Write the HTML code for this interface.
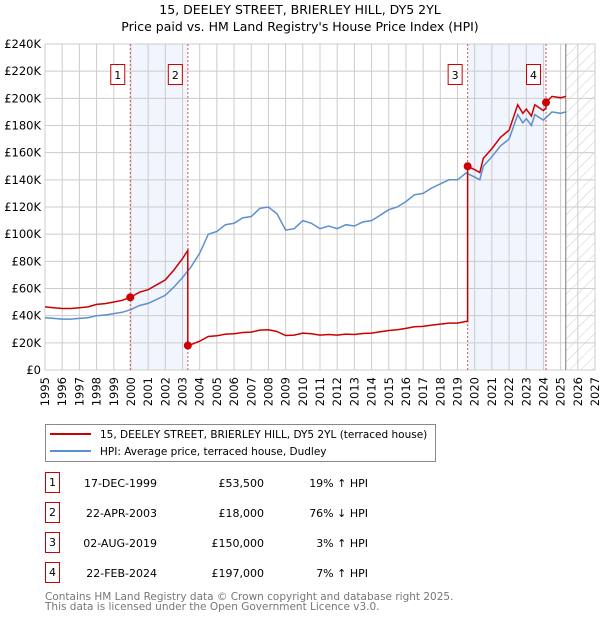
<!DOCTYPE html>
<html><head><meta charset="utf-8"><style>
body{margin:0;background:#fff;}
svg text{font-family:"DejaVu Sans","Liberation Sans",sans-serif;}
</style></head><body>
<svg id="c" width="600" height="620" xmlns="http://www.w3.org/2000/svg">
<defs><pattern id="hatch" width="8" height="8" patternUnits="userSpaceOnUse" patternTransform="rotate(45)"><line x1="0" y1="0" x2="0" y2="8" stroke="#ccc" stroke-width="1"/></pattern></defs>
<text x="300" y="14" text-anchor="middle" font-size="12.5">15, DEELEY STREET, BRIERLEY HILL, DY5 2YL</text>
<text x="300" y="31" text-anchor="middle" font-size="12.5">Price paid vs. HM Land Registry's House Price Index (HPI)</text>
<g id="plot"></g>
<g>
<rect x="45.5" y="424.5" width="390" height="37" fill="#fff" stroke="#888"/>
<line x1="50" y1="434" x2="91" y2="434" stroke="#cc0000" stroke-width="2"/>
<text x="100" y="438" font-size="10.5">15, DEELEY STREET, BRIERLEY HILL, DY5 2YL (terraced house)</text>
<line x1="50" y1="451" x2="91" y2="451" stroke="#5b8fd0" stroke-width="2"/>
<text x="100" y="455" font-size="10.5">HPI: Average price, terraced house, Dudley</text>
</g>
<g id="table"></g>
<text x="45" y="600" font-size="10.5" fill="#777">Contains HM Land Registry data © Crown copyright and database right 2025.</text>
<text x="45" y="610" font-size="10.5" fill="#777">This data is licensed under the Open Government Licence v3.0.</text>
</svg>
<script>
const hpiYears=[1995,1995.5,1996,1996.5,1997,1997.5,1998,1998.5,1999,1999.5,2000,2000.5,2001,2001.5,2002,2002.5,2003,2003.5,2004,2004.5,2005,2005.5,2006,2006.5,2007,2007.5,2008,2008.5,2009,2009.5,2010,2010.5,2011,2011.5,2012,2012.5,2013,2013.5,2014,2014.5,2015,2015.5,2016,2016.5,2017,2017.5,2018,2018.5,2019,2019.5,2020,2020.3,2020.5,2021,2021.5,2022,2022.5,2022.8,2023,2023.3,2023.5,2024,2024.5,2025,2025.3];
const hpiValues=[38.5,38,37.5,37.5,38,38.5,40,40.5,41.5,42.5,44.5,47.5,49,52,55,61,68,76,86,100,102,107,108,112,113,119,120,115,103,104,110,108,104,106,104,107,106,109,110,114,118,120,124,129,130,134,137,140,140,145,142,140,150,157,165,170,188,182,185,180,188,184,190,189,190];
const saleYears=[1999.96,2003.31,2019.59,2024.15];
const salePrices=[53.5,18,150,197];
const saleDates=["17-DEC-1999","22-APR-2003","02-AUG-2019","22-FEB-2024"];
const salePriceLabels=["£53,500","£18,000","£150,000","£197,000"];
const salePct=["19% ↑ HPI","76% ↓ HPI","3% ↑ HPI","7% ↑ HPI"];
const yTicks=[0,20,40,60,80,100,120,140,160,180,200,220,240];
const xTicks=[1995,1996,1997,1998,1999,2000,2001,2002,2003,2004,2005,2006,2007,2008,2009,2010,2011,2012,2013,2014,2015,2016,2017,2018,2019,2020,2021,2022,2023,2024,2025,2026,2027];

const X0=45,X1=595,Y0=370,Y1=44,xMin=1995,xMax=2027,yMax=240,forecastStart=2025.3;
const sx=v=>X0+(v-xMin)/(xMax-xMin)*(X1-X0);
const sy=v=>Y0-v/yMax*(Y0-Y1);
const NS="http://www.w3.org/2000/svg";
const plot=document.getElementById('plot');
function mk(tag,attrs,parent){const e=document.createElementNS(NS,tag);for(const k in attrs)e.setAttribute(k,attrs[k]);(parent||plot).appendChild(e);return e;}
function hpiAt(t){for(let i=0;i<hpiYears.length-1;i++){if(t<=hpiYears[i+1]){const f=(t-hpiYears[i])/(hpiYears[i+1]-hpiYears[i]);return hpiValues[i]+f*(hpiValues[i+1]-hpiValues[i]);}}return hpiValues[hpiValues.length-1];}

for(const [a,b] of [[0,1],[2,3]]){
 const r=mk('rect',{x:sx(saleYears[a]),y:Y1,width:sx(saleYears[b])-sx(saleYears[a]),height:Y0-Y1,fill:'#eef3fc',opacity:0.8});
 
 
}
const h=mk('rect',{x:sx(forecastStart),y:Y1,width:X1-sx(forecastStart),height:Y0-Y1,fill:'url(#hatch)'});


for(const t of yTicks){
 mk('line',{x1:X0,x2:X1,y1:sy(t),y2:sy(t),stroke:'#ccc','stroke-width':1});
 const tx=mk('text',{x:X0-4,y:sy(t)+4,'text-anchor':'end','font-size':11.5});
 tx.textContent=t===0?'£0':'£'+t+'K';
 
 
}
for(const t of xTicks){
 mk('line',{x1:sx(t),x2:sx(t),y1:Y1,y2:Y0,stroke:'#ccc','stroke-width':1});
 const tx=mk('text',{x:0,y:0,'text-anchor':'end','font-size':11.5,transform:'translate('+(sx(t)+4)+',377) rotate(-90)'});
 tx.textContent=t;
 
 
}
mk('rect',{x:X0,y:Y1,width:X1-X0,height:Y0-Y1,fill:'none',stroke:'#ccc'});
mk('line',{x1:sx(forecastStart),x2:sx(forecastStart),y1:Y1,y2:Y0,stroke:'#777','stroke-width':1});
saleYears.forEach((s,i)=>{
 mk('line',{x1:sx(s),x2:sx(s),y1:Y1,y2:Y0,stroke:'#e05050','stroke-width':1,'stroke-dasharray':'2,2'});
 const b=mk('rect',{x:sx(s)-19.5,y:64.5,width:14,height:20,fill:'#fff',stroke:'#cc0000'});
 
 
 const t=mk('text',{x:sx(s)-12.5,y:79,'text-anchor':'middle','font-size':11});
 t.textContent=i+1;
});
let d='';hpiYears.forEach((y,i)=>{d+=(i?'L':'M')+sx(y).toFixed(1)+','+sy(hpiValues[i]).toFixed(1);});
const hp=mk('path',{d:d,fill:'none',stroke:'#5b8fd0','stroke-width':1.5});


let pd='';const pts=[];
for(let k=0;k<=saleYears.length;k++){
 const start=k===0?xMin:saleYears[k-1], end=k<saleYears.length?saleYears[k]:forecastStart;
 const ref=k===0?0:k-1; const ratio=salePrices[ref]/hpiAt(saleYears[ref]);
 const ts=[start,...hpiYears.filter(y=>y>start&&y<end),end];
 ts.forEach(t=>pts.push([t,hpiAt(t)*ratio]));
 if(k<saleYears.length){pts.push([saleYears[k],salePrices[k]]);}
}
pts.forEach((p,i)=>{pd+=(i?'L':'M')+sx(p[0]).toFixed(1)+','+sy(p[1]).toFixed(1);});
const pp=mk('path',{d:pd,fill:'none',stroke:'#cc0000','stroke-width':1.5});


saleYears.forEach((s,i)=>{
 const c=mk('circle',{cx:sx(s),cy:sy(salePrices[i]),r:4,fill:'#cc0000'});
 
 
});
const tb=document.getElementById('table');
const rowY=[483,513,543,573];
saleDates.forEach((dt,i)=>{
 const y=rowY[i];
 mk('rect',{x:45.5,y:y-10.5,width:14,height:20,fill:'#fff',stroke:'#cc0000'},tb);
 const n=mk('text',{x:52.5,y:y+3,'text-anchor':'middle','font-size':11},tb);n.textContent=i+1;
 const a=mk('text',{x:157,y:y+4,'text-anchor':'end','font-size':11},tb);a.textContent=dt;
 
 
 const b=mk('text',{x:264,y:y+4,'text-anchor':'end','font-size':11},tb);b.textContent=salePriceLabels[i];
 
 
 const c=mk('text',{x:368,y:y+4,'text-anchor':'end','font-size':11},tb);c.textContent=salePct[i];
 
 
});
</script>
</body></html>
